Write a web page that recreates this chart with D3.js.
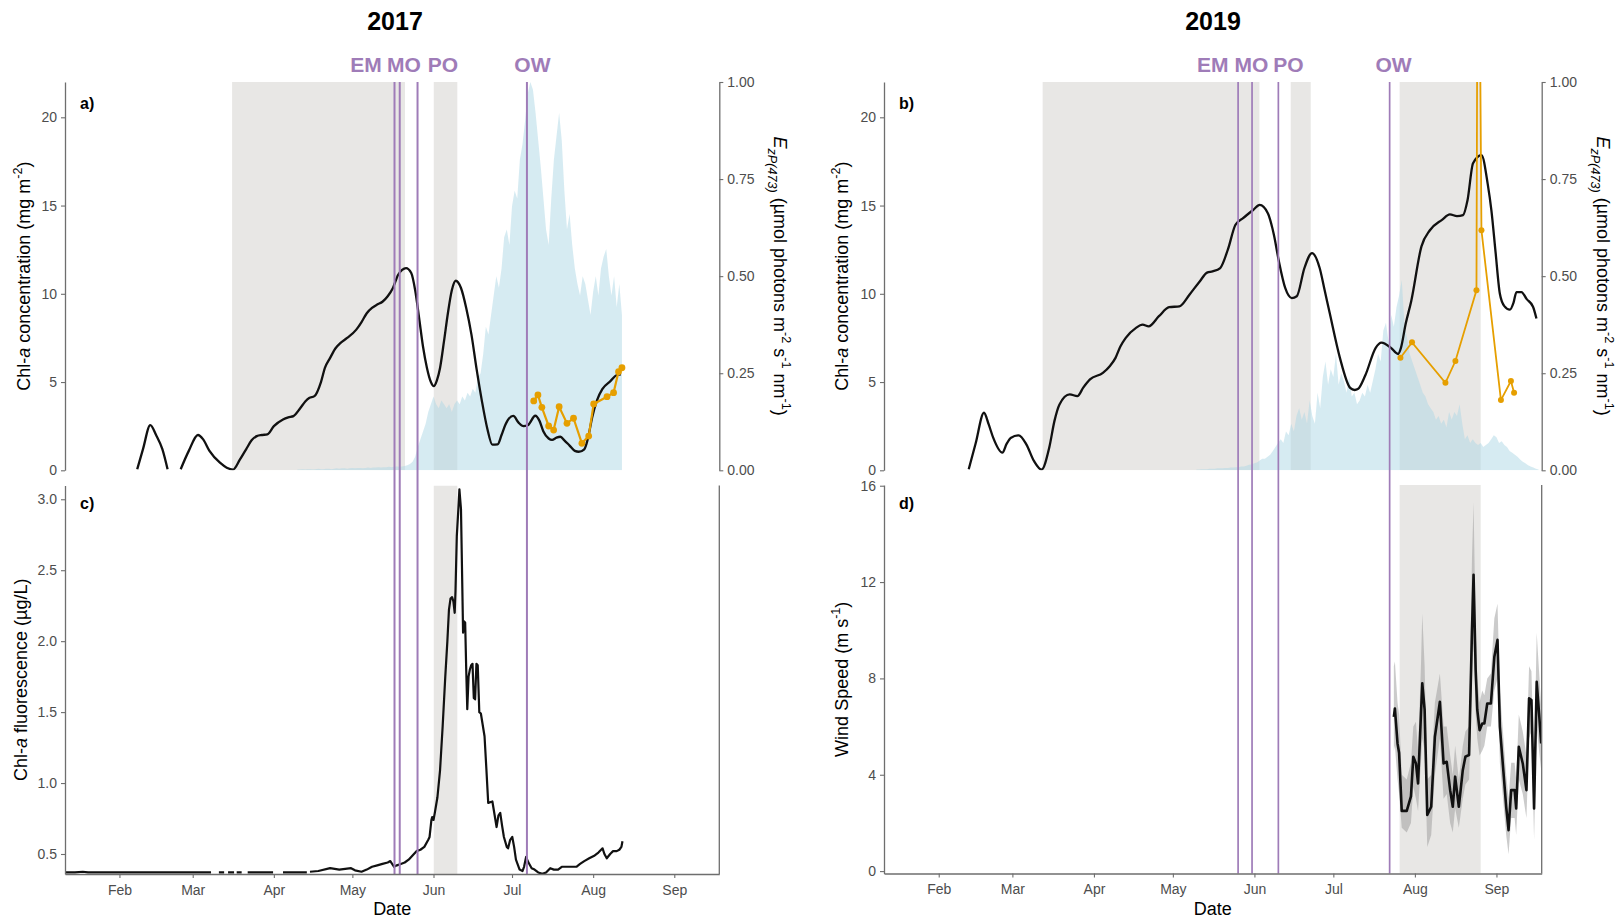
<!DOCTYPE html>
<html><head><meta charset="utf-8">
<script src="https://cdn.jsdelivr.net/npm/d3@7"></script>
<style>body{margin:0;background:#fff}svg{display:block}</style>
</head><body><svg id="c" width="1619" height="920"></svg>
<script>
// ---------------- DATA ----------------
const yearTitles = ["2017", "2019"];
const monthLabels = ["Feb","Mar","Apr","May","Jun","Jul","Aug","Sep"];
const phaseNames = ["EM","MO","PO","OW"];
// day-of-year of phase lines and label positions
const phaseDays2017 = [137.1, 139.1, 145.9, 187.7];
const phaseLabelDays2017 = [126.2, 140.7, 155.6, 189.8];
const phaseDays2019 = [145.8, 151.1, 161.1, 203.4];
const phaseLabelDays2019 = [136.2, 150.9, 164.9, 204.9];
// shaded periods (day-of-year)
const shadeTop2017 = [[75.05,141.1],[152.1,161.1]];
const shadeBot2017 = [[152.1,161.1]];
const shadeTop2019 = [[71.5,153.9],[165.8,173.4],[207.2,238]];
const shadeBot2019 = [[207.2,238]];

// Chl-a concentration (mg m-2), [day, value]; null = gap
const chl2017 = [[38.8,0.06],[41,1.2],[43.8,2.56],[46,2.0],[48.4,1.2],[50.4,0.06],null,
 [55.4,0.06],[58.5,1.1],[62,2.0],[64,1.75],[66.4,1.1],[70.4,0.43],[73,0.15],[75.4,0.04],[78,0.6],
 [80.4,1.19],[82.5,1.7],[84.5,1.94],[86.5,2.0],[88.5,2.04],[91,2.5],[94.5,2.88],[96.5,3.0],[98.5,3.07],
 [101,3.5],[103,3.9],[104.5,4.1],[106.5,4.2],[109,5.0],[110.5,5.8],[112.5,6.37],[114.5,6.9],[116.5,7.22],
 [119,7.5],[122.5,7.97],[124.5,8.4],[126.5,8.9],[128.5,9.2],[130.5,9.39],[132.5,9.55],[134.5,9.86],
 [136.5,10.33],[138.5,11.08],[140,11.35],[141.5,11.46],[143.5,11.18],[145,10.2],[146.5,8.63],[148,7.0],
 [149.5,5.8],[151,5.0],[152.1,4.77],[153.3,5.1],[154.5,5.8],[156,7.3],[157.5,8.9],[159,10.2],[160.5,10.74],
 [162.5,10.33],[164.5,9.2],[166.5,7.69],[168.5,5.7],[170.5,3.92],[172.5,2.4],[174.5,1.45],[176.5,1.47],
 [178,2.0],[179.5,2.6],[182.5,3.08],[184.5,2.7],[186.4,2.5],[188,2.55],[190.9,3.09],[192.5,2.8],[194,2.2],
 [196,1.8],[197.3,1.72],[199,1.85],[200.5,1.9],[202,1.7],[204,1.4],[206,1.1],[207.5,1.05],[209.6,1.19],
 [211,1.8],[212.6,2.98],[214.5,3.98],[216.5,4.6],[219.6,5.05],[222.1,5.4],[223.6,5.43]];
const chl2019 = [[43.4,0.06],[46,1.5],[49.2,3.26],[51,2.6],[52.7,1.85],[56.2,1.0],[57.8,1.5],[59.5,1.85],
 [62.4,1.98],[65.3,1.47],[68.2,0.53],[71.1,0.04],[74,1.28],[76,2.8],[77.9,3.73],[81.8,4.3],[84.7,4.2],
 [87,4.7],[89.5,5.15],[94.4,5.52],[97,5.9],[99.2,6.37],[101,7.0],[103.1,7.5],[107,8.07],[109.5,8.25],
 [111.8,8.16],[115.7,8.73],[119.6,9.24],[123.5,9.29],[127.3,9.95],[131.2,10.7],[134,11.2],[136.1,11.27],
 [139,11.46],[141.9,12.5],[144.8,13.91],[147.7,14.29],[151.6,14.76],[154,15.04],[157.1,14.57],[159.4,13.35],
 [161.3,11.84],[163.7,10.33],[166.2,9.76],[168.1,9.86],[171,11.46],[173.9,12.31],[176.8,11.46],[178.7,10.2],
 [180.6,8.92],[184.5,6.37],[188.4,4.67],[190.1,4.55],[191.3,4.6],[194.2,5.4],[198.1,6.94],[200.3,7.23],
 [203.9,6.94],[206.6,6.59],[207.7,6.94],[209.5,8.3],[211.6,9.58],[215.5,12.69],[218.7,13.6],[223.3,14.19],
 [226.3,14.5],[229,14.4],[231.3,14.46],[233,15.3],[235.1,17.4],[238.3,17.86],[240.7,16.2],[242.1,14.7],
 [243.7,12.3],[245.3,10.0],[247,9.3],[249.1,9.1],[250.5,9.5],[251.6,10.1],[253.5,10.1],[255.5,9.7],
 [257.9,9.27],[259.2,8.6]];

// in situ Chl-a (orange), [day, value]
const orange2017 = [[190.3,3.93],[191.9,4.27],[193.4,3.57],[196.0,2.51],[197.9,2.28],[200.0,3.6],[203.0,2.66],
 [205.5,2.95],[208.7,1.53],[211.3,1.94],[213.2,3.76],[218.3,4.17],[220.8,4.4],[222.7,5.59],[224.0,5.81]];
const orange2019 = [[207.5,6.38],[211.9,7.25],[224.6,4.96],[228.4,6.19],[236.4,10.2],[237.0,40],[238.3,13.6],
 [245.7,3.98],[249.5,5.06],[250.7,4.4]];

// EzP(473) daily values, first day-of-year then values
const ezpStart2017 = 100;
const ezp2017 = [0.002,0.002,0.003,0.002,0.003,0.003,0.002,0.003,0.004,0.003,
 0.003,0.004,0.004,0.003,0.004,0.005,0.004,0.005,0.005,0.004,
 0.005,0.006,0.005,0.006,0.006,0.005,0.006,0.007,0.006,0.007,
 0.007,0.008,0.007,0.008,0.008,0.009,0.008,0.009,0.01,0.009,
 0.01,0.011,0.013,0.016,0.022,0.035,0.06,0.08,0.1,0.12,
 0.15,0.17,0.19,0.17,0.16,0.18,0.17,0.16,0.17,0.15,
 0.17,0.18,0.17,0.19,0.18,0.2,0.19,0.21,0.2,0.24,
 0.25,0.3,0.37,0.35,0.4,0.45,0.5,0.47,0.52,0.6,
 0.62,0.58,0.68,0.72,0.7,0.8,0.84,0.9,0.97,1.0,
 0.98,0.92,0.85,0.78,0.7,0.62,0.58,0.7,0.8,0.86,
 0.92,0.85,0.72,0.62,0.66,0.58,0.52,0.48,0.45,0.5,
 0.48,0.44,0.4,0.46,0.5,0.45,0.52,0.55,0.57,0.5,
 0.45,0.5,0.42,0.48,0.4];
const ezpStart2019 = 130;
const ezp2019 = [0.002,0.002,0.003,0.003,0.003,0.004,0.004,0.004,0.005,0.005,
 0.005,0.006,0.006,0.007,0.007,0.008,0.008,0.01,0.01,0.012,
 0.014,0.015,0.018,0.02,0.025,0.03,0.03,0.035,0.04,0.05,
 0.06,0.07,0.08,0.07,0.1,0.09,0.12,0.1,0.14,0.16,
 0.13,0.15,0.12,0.18,0.14,0.12,0.2,0.16,0.24,0.28,
 0.22,0.26,0.24,0.3,0.22,0.25,0.23,0.2,0.24,0.19,
 0.2,0.17,0.18,0.2,0.19,0.22,0.2,0.23,0.26,0.3,
 0.28,0.36,0.38,0.33,0.4,0.37,0.42,0.45,0.49,0.38,
 0.34,0.3,0.28,0.26,0.24,0.22,0.2,0.19,0.17,0.16,
 0.15,0.13,0.14,0.12,0.13,0.11,0.15,0.13,0.15,0.14,
 0.17,0.12,0.08,0.09,0.07,0.08,0.07,0.065,0.07,0.06,
 0.065,0.07,0.08,0.09,0.085,0.07,0.075,0.065,0.06,0.05,
 0.045,0.04,0.035,0.028,0.022,0.018,0.013,0.01,0.007,0.004,0.002];

// Chl-a fluorescence 2017 (µg/L), [day, value]; null = gap
const fluor2017 = [[11.2,0.37],[15,0.37],[18,0.375],[20,0.37],[30,0.37],[45,0.37],[60,0.37],[67,0.37],null,
 [70,0.37],[72,0.37],null,[73.5,0.37],[75.8,0.37],null,[76.8,0.37],[78.7,0.37],null,[81,0.37],[90.7,0.37],null,
 [94.5,0.37],[103.6,0.37],null,[104.8,0.375],[108,0.38],[112.5,0.40],[116,0.39],[120.5,0.40],[122,0.385],
 [124.5,0.375],[126.5,0.39],[128.5,0.41],[130.5,0.42],[132.5,0.43],[134.5,0.44],[135.5,0.45],[136.9,0.41],
 [138,0.42],[139.5,0.43],[141,0.44],[142.5,0.46],[144,0.49],[145.5,0.52],[147,0.53],[148.5,0.55],[150,0.6],
 [150.5,0.62],[151.2,0.74],[151.5,0.76],[152,0.74],[152.5,0.79],[153.5,0.9],[154.5,1.09],[155.5,1.4],
 [156.5,1.75],[157.3,2.0],[157.9,2.22],[158.5,2.3],[159.1,2.31],[159.6,2.28],[160.1,2.2],[160.4,2.35],
 [160.9,2.74],[161.4,2.9],[161.9,3.07],[162.2,3.0],[162.5,2.93],[162.9,2.5],[163.3,2.06],[163.7,2.14],
 [164.1,2.13],[164.5,1.8],[164.9,1.52],[165.4,1.75],[165.9,1.8],[166.4,1.83],[166.9,1.84],[167.4,1.6],
 [167.9,1.59],[168.4,1.84],[168.9,1.83],[169.5,1.5],[170.1,1.49],[171.5,1.33],[172.2,1.1],[172.9,0.86],
 [174.5,0.87],[175.3,0.78],[176.1,0.69],[176.8,0.77],[177.5,0.79],[178.2,0.7],[178.9,0.62],[180,0.55],
 [180.5,0.54],[181.3,0.6],[182.1,0.62],[182.8,0.55],[183.5,0.46],[184.9,0.39],[186,0.38],[186.6,0.41],
 [187.4,0.48],[188,0.45],[188.6,0.43],[189.5,0.4],[190.6,0.39],[192,0.37],[193.6,0.36],[195,0.37],
 [196.6,0.40],[198,0.39],[199.6,0.39],[201,0.41],[202.6,0.41],[204.5,0.41],[206.6,0.41],[208,0.43],
 [209.6,0.45],[211.5,0.47],[213.6,0.49],[215,0.51],[216.6,0.54],[217.3,0.5],[218.2,0.47],[219.5,0.5],
 [220.6,0.52],[222,0.52],[223,0.53],[223.8,0.55],[224.2,0.59]];

// Wind speed 2019 (m s-1)
const windDay  = [205.0,205.4,206.4,207.0,208.0,209.9,211.5,212.4,213.4,214.2,215.3,215.8,216.7,217.7,219.2,220.6,222.5,223.9,225.1,226.4,227.4,228.3,229.7,231.2,232.2,233.6,234.7,235.3,236.1,236.7,237.6,238.6,239.4,240.5,241.9,243.2,244.4,245.3,247.7,248.6,249.6,250.9,251.5,252.5,254.0,255.4,256.4,257.3,258.3,259.3,260.2,261.0];
const windMean = [6.4,6.75,5.3,4.9,2.5,2.5,3.1,4.75,4.47,3.64,6.5,7.8,6.7,2.33,2.67,5.58,7.03,4.47,4.54,3.36,2.67,3.92,2.67,4.19,4.75,4.82,10.0,12.3,8.35,6.7,5.85,6.13,6.13,6.96,6.96,8.9,9.6,6.0,2.67,1.7,3.36,3.36,2.6,5.16,4.47,3.36,7.17,7.1,2.6,7.86,6.55,5.3];
const windLow  = [5.0,5.2,3.8,3.2,1.8,1.6,2.0,3.5,3.0,2.5,4.5,5.5,5.0,1.0,1.5,4.0,5.5,3.0,3.2,2.0,1.6,2.6,1.8,3.0,3.6,3.8,8.0,9.5,6.5,5.5,4.8,5.0,5.2,6.0,6.0,7.5,8.0,4.5,1.5,0.7,2.2,2.2,1.5,3.8,3.2,2.2,5.5,5.8,1.3,6.0,5.0,4.2];
const windHigh = [8.5,8.7,7.0,6.5,4.0,3.8,4.5,6.0,6.2,5.0,8.5,10.7,8.5,3.8,4.0,7.0,8.2,6.0,6.0,4.8,4.0,5.2,3.8,5.2,5.8,6.0,13.0,15.3,10.0,8.0,7.0,7.5,7.3,8.0,8.2,10.5,11.1,7.5,4.0,3.0,4.5,4.5,3.8,6.5,5.8,4.8,8.5,8.3,4.2,9.9,8.3,6.8];

// ---------------- DRAWING ----------------
const F = "'Liberation Sans', Arial, Helvetica, sans-serif";
const AX = "#6e6e6e", TXT = "#4d4d4d", PURPLE = "#9f7cb8", ORANGE = "#E69F00";
const svg = d3.select("#c");
const defs = svg.append("defs");
function dt(y, doy){ return new Date(Date.UTC(y,0,1) + (doy-1)*86400000); }

function rich(sel, parts, size){
  let shift = 0;
  parts.forEach(p => {
    const target = p.sup ? -size*0.42 : p.sub ? size*0.32 : 0;
    const t = sel.append("tspan").text(p.t).attr("dy", target - shift);
    shift = target;
    if (p.it) t.attr("font-style","italic");
    if (p.sup || p.sub) t.attr("font-size", size*0.7);
  });
}
function styleAxis(g){
  g.attr("font-size",14).attr("font-family",F);
  g.select(".domain").attr("stroke",AX).attr("stroke-width",1.3);
  g.selectAll(".tick line").attr("stroke",AX).attr("stroke-width",1.1);
  g.selectAll(".tick text").attr("fill",TXT);
}

const TOP = [470.3, 82];
const cfgs = [
  {year:2017, x0:65, x1:719.3, title:yearTitles[0], phaseDays:phaseDays2017, labelDays:phaseLabelDays2017,
   shadeTop:shadeTop2017, shadeBot:shadeBot2017, chl:chl2017, orange:orange2017, ezpStart:ezpStart2017, ezp:ezp2017,
   bot:[874,485.5], topLabel:"a)", botLabel:"c)", titleX:395, leftTitleX:30, botTitleX:27, rightTitleX:774},
  {year:2019, x0:884, x1:1541.7, title:yearTitles[1], phaseDays:phaseDays2019, labelDays:phaseLabelDays2019,
   shadeTop:shadeTop2019, shadeBot:shadeBot2019, chl:chl2019, orange:orange2019, ezpStart:ezpStart2019, ezp:ezp2019,
   bot:[873.5,485], topLabel:"b)", botLabel:"d)", titleX:1213, leftTitleX:848, botTitleX:848, rightTitleX:1597}
];

cfgs.forEach((c, ci) => {
  const Y = c.year;
  const x = d3.scaleUtc().domain([dt(Y,11.2), dt(Y,261.2)]).range([c.x0, c.x1]);
  const yL = d3.scaleLinear().domain([0,22]).range(TOP);
  const yR = d3.scaleLinear().domain([0,1]).range(TOP);
  const yB = ci === 0 ? d3.scaleLinear().domain([0.359,3.097]).range(c.bot)
                      : d3.scaleLinear().domain([-0.1,16.03]).range(c.bot);
  const X = d => x(dt(Y, d));

  // clips
  const ct = "clipT"+Y, cb = "clipB"+Y;
  defs.append("clipPath").attr("id",ct).append("rect")
    .attr("x",c.x0).attr("y",TOP[1]).attr("width",c.x1-c.x0).attr("height",TOP[0]-TOP[1]);
  defs.append("clipPath").attr("id",cb).append("rect")
    .attr("x",c.x0).attr("y",c.bot[1]).attr("width",c.x1-c.x0).attr("height",c.bot[0]-c.bot[1]);

  const gT = svg.append("g").attr("clip-path",`url(#${ct})`);
  const gB = svg.append("g").attr("clip-path",`url(#${cb})`);

  // shading
  gT.selectAll("rect.sh").data(c.shadeTop).join("rect")
    .attr("x",d=>X(d[0])).attr("width",d=>X(d[1])-X(d[0]))
    .attr("y",TOP[1]).attr("height",TOP[0]-TOP[1]).attr("fill","#e8e7e5");
  gB.selectAll("rect.sh").data(c.shadeBot).join("rect")
    .attr("x",d=>X(d[0])).attr("width",d=>X(d[1])-X(d[0]))
    .attr("y",c.bot[1]).attr("height",c.bot[0]-c.bot[1]).attr("fill","#e8e7e5");

  // EzP area
  const ezpData = c.ezp.map((v,i)=>[c.ezpStart+i, v]);
  gT.append("path").datum(ezpData)
    .attr("d", d3.area().x(d=>X(d[0])).y0(yR(0)).y1(d=>yR(d[1])))
    .attr("fill","#add8e6").attr("fill-opacity",0.5);

  // wind ribbon (2019 bottom)
  if (ci === 1) {
    const wd = windDay.map((d,i)=>({d, m:windMean[i], lo:windLow[i], hi:windHigh[i]}));
    gB.append("path").datum(wd)
      .attr("d", d3.area().x(d=>X(d.d)).y0(d=>yB(d.lo)).y1(d=>yB(d.hi)))
      .attr("fill","#a0a0a0").attr("fill-opacity",0.55);
  }

  // phase lines (span both panels)
  svg.append("g").selectAll("line").data(c.phaseDays).join("line")
    .attr("x1",d=>X(d)).attr("x2",d=>X(d)).attr("y1",TOP[1]).attr("y2",c.bot[0])
    .attr("stroke",PURPLE).attr("stroke-width", ci===0 ? 2 : 1.7);

  // black chl line
  const line = d3.line().defined(d=>d!==null).x(d=>X(d[0])).y(d=>yL(d[1])).curve(d3.curveMonotoneX);
  gT.append("path").datum(c.chl).attr("d",line).attr("fill","none")
    .attr("stroke","#111").attr("stroke-width",2.3).attr("stroke-linejoin","round");

  // orange line + points
  gT.append("path").datum(c.orange)
    .attr("d", d3.line().x(d=>X(d[0])).y(d=>yL(d[1])))
    .attr("fill","none").attr("stroke",ORANGE).attr("stroke-width", ci===0 ? 2.2 : 1.8);
  gT.selectAll("circle").data(c.orange).join("circle")
    .attr("cx",d=>X(d[0])).attr("cy",d=>yL(d[1])).attr("r", ci===0 ? 3.4 : 3)
    .attr("fill",ORANGE);

  // bottom panel line
  if (ci === 0) {
    gB.append("path").datum(fluor2017)
      .attr("d", d3.line().defined(d=>d!==null).x(d=>X(d[0])).y(d=>yB(d[1])))
      .attr("fill","none").attr("stroke","#111").attr("stroke-width",2.2).attr("stroke-linejoin","round");
  } else {
    gB.append("path").datum(windDay.map((d,i)=>[d, windMean[i]]))
      .attr("d", d3.line().x(d=>X(d[0])).y(d=>yB(d[1])))
      .attr("fill","none").attr("stroke","#111").attr("stroke-width",2.6).attr("stroke-linejoin","round");
  }

  // axes - top panel
  svg.append("g").attr("transform",`translate(${c.x0},0)`)
    .call(d3.axisLeft(yL).tickValues([0,5,10,15,20]).tickSize(4).tickPadding(4).tickSizeOuter(0))
    .call(styleAxis);
  svg.append("g").attr("transform",`translate(${c.x1},0)`)
    .call(d3.axisRight(yR).tickValues([0,0.25,0.5,0.75,1]).tickFormat(d3.format(".2f")).tickSize(4).tickPadding(4).tickSizeOuter(0))
    .call(styleAxis);
  // axes - bottom panel
  const bTicks = ci === 0 ? [0.5,1.0,1.5,2.0,2.5,3.0] : [0,4,8,12,16];
  svg.append("g").attr("transform",`translate(${c.x0},0)`)
    .call(d3.axisLeft(yB).tickValues(bTicks).tickFormat(ci===0 ? d3.format(".1f") : d3.format("d")).tickSize(4).tickPadding(4).tickSizeOuter(0))
    .call(styleAxis);
  const mTicks = monthLabels.map((m,i)=>new Date(Date.UTC(Y, i+1, 1)));
  svg.append("g").attr("transform",`translate(0,${c.bot[0]})`)
    .call(d3.axisBottom(x).tickValues(mTicks).tickFormat((d,i)=>monthLabels[i]).tickSize(4).tickPadding(7).tickSizeOuter(0))
    .call(styleAxis);
  svg.append("line").attr("x1",c.x1).attr("x2",c.x1).attr("y1",c.bot[1]).attr("y2",c.bot[0])
    .attr("stroke",AX).attr("stroke-width",1.3);

  // titles
  svg.append("text").attr("x",c.titleX).attr("y",30).attr("text-anchor","middle")
    .attr("font-family",F).attr("font-weight","bold").attr("font-size",25).attr("fill","#000").text(c.title);
  svg.append("g").selectAll("text").data(c.labelDays).join("text")
    .attr("x",d=>X(d)).attr("y",72).attr("text-anchor","middle")
    .attr("font-family",F).attr("font-weight","bold").attr("font-size",21).attr("fill",PURPLE)
    .text((d,i)=>phaseNames[i]);

  // panel tags
  svg.append("text").attr("x",c.x0+15).attr("y",109).attr("font-family",F).attr("font-weight","bold")
    .attr("font-size",16).attr("fill","#000").text(c.topLabel);
  svg.append("text").attr("x",c.x0+15).attr("y",509).attr("font-family",F).attr("font-weight","bold")
    .attr("font-size",16).attr("fill","#000").text(c.botLabel);

  // axis titles
  const midTop = (TOP[0]+TOP[1])/2, midBot = (c.bot[0]+c.bot[1])/2;
  const tL = svg.append("text").attr("transform",`translate(${c.leftTitleX},${midTop}) rotate(-90)`)
    .attr("text-anchor","middle").attr("font-family",F).attr("font-size",18).attr("fill","#000");
  rich(tL, [{t:"Chl-"},{t:"a",it:true},{t:" concentration (mg m"},{t:"-2",sup:true},{t:")"}], 18);
  const tR = svg.append("text").attr("transform",`translate(${c.rightTitleX},${midTop}) rotate(90)`)
    .attr("text-anchor","middle").attr("font-family",F).attr("font-size",18).attr("fill","#000");
  rich(tR, [{t:"E",it:true},{t:"zP(473)",sub:true,it:true},{t:" (µmol photons m"},{t:"-2",sup:true},
            {t:" s"},{t:"-1",sup:true},{t:" nm"},{t:"-1",sup:true},{t:")"}], 18);
  const tB = svg.append("text").attr("transform",`translate(${c.botTitleX},${midBot}) rotate(-90)`)
    .attr("text-anchor","middle").attr("font-family",F).attr("font-size",18).attr("fill","#000");
  if (ci === 0) rich(tB, [{t:"Chl-"},{t:"a",it:true},{t:" fluorescence (µg/L)"}], 18);
  else rich(tB, [{t:"Wind Speed (m s"},{t:"-1",sup:true},{t:")"}], 18);
  svg.append("text").attr("x",(c.x0+c.x1)/2).attr("y",915).attr("text-anchor","middle")
    .attr("font-family",F).attr("font-size",18).attr("fill","#000").text("Date");
});
</script></body></html>
